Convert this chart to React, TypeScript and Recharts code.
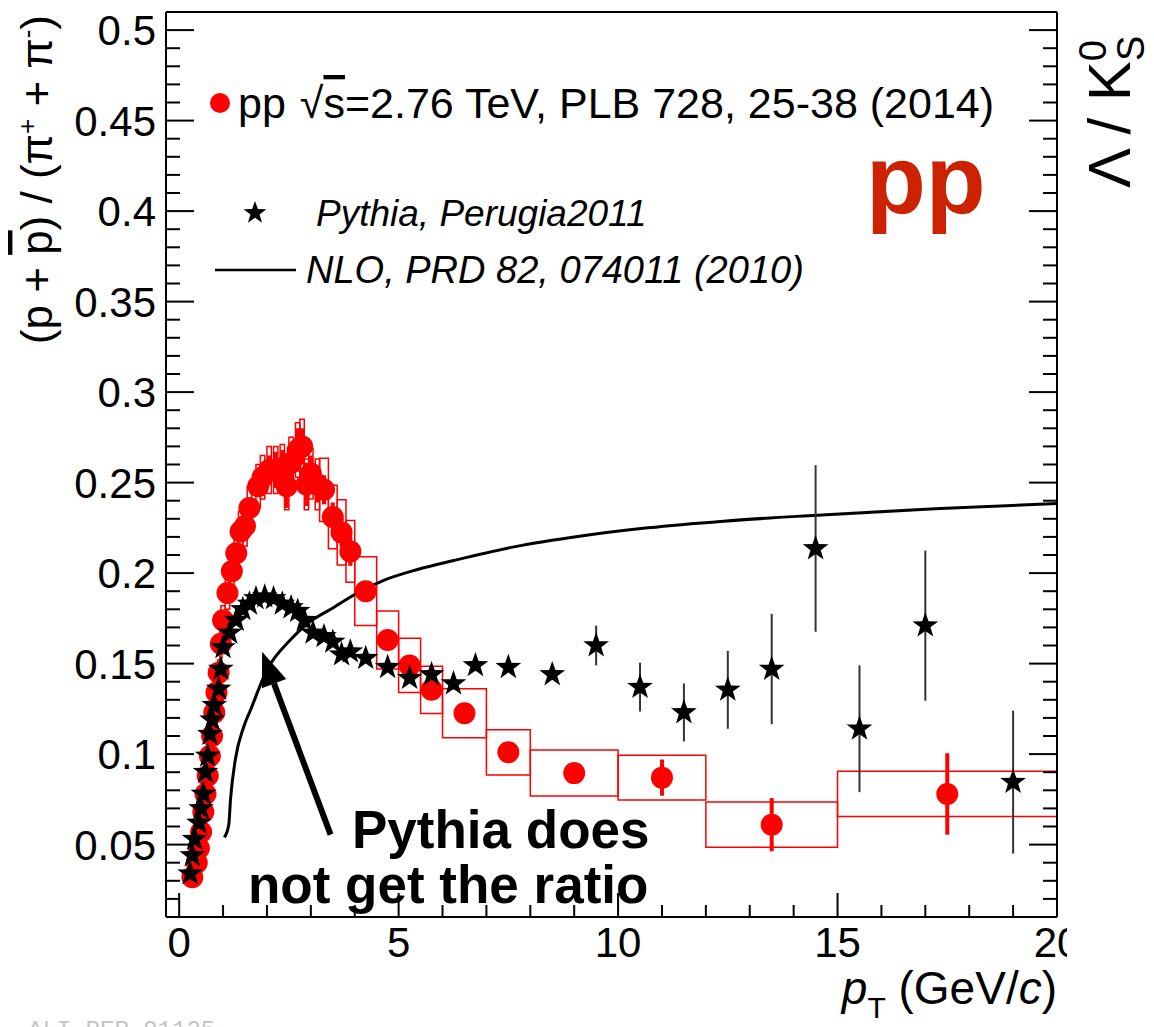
import React from 'react';
import { ComposedChart, Scatter, Line, XAxis, YAxis, ErrorBar, ReferenceArea, ReferenceLine } from 'recharts';

const FONT = '"Liberation Sans", Arial, Helvetica, sans-serif';

// ALICE pp 2.76 TeV, (p+pbar)/(pi+ + pi-)
const dataPt = [0.3, 0.4, 0.45, 0.5, 0.55, 0.6, 0.65, 0.7, 0.75, 0.8, 0.85, 0.9, 0.95, 1.0, 1.1, 1.2, 1.3, 1.4, 1.5, 1.6, 1.8, 1.9, 2.05, 2.2, 2.35, 2.45, 2.55, 2.7, 2.8, 2.9, 3.0, 3.15, 3.3, 3.5, 3.7, 3.9, 4.25, 4.75, 5.25, 5.75, 6.5, 7.5, 9.0, 11.0, 13.5, 17.5];
const dataRatio = [0.032, 0.04, 0.048, 0.057, 0.068, 0.078, 0.088, 0.099, 0.11, 0.123, 0.134, 0.145, 0.161, 0.174, 0.189, 0.201, 0.211, 0.223, 0.226, 0.236, 0.248, 0.253, 0.257, 0.257, 0.258, 0.248, 0.261, 0.268, 0.27, 0.249, 0.255, 0.249, 0.246, 0.231, 0.2225, 0.212, 0.19, 0.163, 0.149, 0.1355, 0.1226, 0.101, 0.0895, 0.087, 0.061, 0.078];
const dataStat = [0, 0, 0, 0, 0, 0, 0, 0, 0, 0, 0, 0, 0, 0, 0, 0, 0, 0, 0, 0, 0.004, 0.005, 0.008, 0.01, 0.01, 0.012, 0.01, 0.012, 0.01, 0.012, 0.01, 0.01, 0.008, 0.008, 0.008, 0.008, 0.004, 0.003, 0.003, 0.003, 0.003, 0.003, 0.004, 0.01, 0.0147, 0.0225];
const dataSys = [0.002, 0.002, 0.003, 0.003, 0.004, 0.004, 0.005, 0.005, 0.006, 0.006, 0.007, 0.007, 0.008, 0.008, 0.009, 0.01, 0.01, 0.011, 0.011, 0.012, 0.012, 0.012, 0.013, 0.013, 0.013, 0.013, 0.014, 0.015, 0.015, 0.014, 0.014, 0.014, 0.0175, 0.0175, 0.018, 0.017, 0.019, 0.016, 0.015, 0.013, 0.0135, 0.0125, 0.0127, 0.0123, 0.0125, 0.0125];
const dataBinW = [0.05, 0.05, 0.05, 0.05, 0.05, 0.05, 0.05, 0.05, 0.05, 0.05, 0.05, 0.05, 0.05, 0.1, 0.1, 0.1, 0.1, 0.1, 0.1, 0.1, 0.1, 0.1, 0.1, 0.1, 0.1, 0.1, 0.1, 0.1, 0.1, 0.1, 0.1, 0.1, 0.2, 0.2, 0.2, 0.2, 0.5, 0.5, 0.5, 0.5, 1, 1, 2, 2, 3, 5];

// Pythia Perugia2011
const pythiaPt = [0.25, 0.3, 0.35, 0.45, 0.5, 0.55, 0.6, 0.65, 0.7, 0.75, 0.8, 0.9, 0.95, 1.0, 1.15, 1.3, 1.45, 1.6, 1.75, 1.95, 2.15, 2.35, 2.55, 2.7, 2.85, 3.05, 3.3, 3.5, 3.7, 3.9, 4.25, 4.75, 5.25, 5.75, 6.25, 6.75, 7.5, 8.5, 9.5, 10.5, 11.5, 12.5, 13.5, 14.5, 15.5, 17.0, 19.0];
const pythiaRatio = [0.034, 0.044, 0.053, 0.062, 0.07, 0.078, 0.09, 0.099, 0.111, 0.119, 0.127, 0.136, 0.147, 0.159, 0.167, 0.174, 0.18, 0.183, 0.186, 0.187, 0.186, 0.183, 0.181, 0.179, 0.174, 0.167, 0.165, 0.162, 0.155, 0.1566, 0.153, 0.148, 0.142, 0.144, 0.139, 0.149, 0.148, 0.144, 0.16, 0.137, 0.123, 0.1355, 0.147, 0.2136, 0.114, 0.171, 0.0845];
const pythiaErr = [0, 0, 0, 0, 0, 0, 0, 0, 0, 0, 0, 0, 0, 0, 0, 0, 0, 0, 0, 0, 0, 0, 0, 0, 0, 0, 0, 0, 0, 0, 0, 0, 0, 0, 0, 0.002, 0.002, 0.003, 0.011, 0.0135, 0.016, 0.0215, 0.0305, 0.046, 0.035, 0.0415, 0.0395];

// NLO, PRD 82, 074011 (2010) - Lambda/K0s
const nloPt = [1.03, 1.13, 1.17, 1.28, 1.47, 1.62, 2.0, 2.53, 2.92, 3.52, 4.06, 4.66, 5.43, 6.26, 7.63, 9.16, 10.68, 12.4, 14.54, 17.22, 20.0];
const nloRatio = [0.054, 0.061, 0.075, 0.097, 0.115, 0.124, 0.1465, 0.163, 0.172, 0.181, 0.189, 0.196, 0.202, 0.207, 0.2145, 0.2205, 0.225, 0.2287, 0.232, 0.2356, 0.2384];

const xTicks = Array.from({ length: 21 }, (_, i) => i);
const yTicks = Array.from({ length: 49 }, (_, i) => (i + 2) / 100);

const dataPoints = dataPt.map((x, i) => ({ x, y: dataRatio[i], err: dataStat[i] }));
const pythiaPoints = pythiaPt.map((x, i) => ({ x, y: pythiaRatio[i], err: pythiaErr[i] }));
const nloPoints = nloPt.map((x, i) => ({ x, y: nloRatio[i] }));

const starPoints = (cx: number, cy: number, R: number) => {
  const pts: string[] = [];
  for (let i = 0; i < 10; i++) {
    const a = -Math.PI / 2 + (i * Math.PI) / 5;
    const rad = i % 2 === 0 ? R : R * 0.4;
    pts.push(`${cx + rad * Math.cos(a)},${cy + rad * Math.sin(a)}`);
  }
  return pts.join(' ');
};

const RedDot = (p: any) => <circle cx={p.cx} cy={p.cy} r={11} fill="#ff0000" />;
const Star = (p: any) => <polygon points={starPoints(p.cx, p.cy, 13.5)} fill="#000" />;

const isMajorX = (v: number) => v % 5 === 0;
const isMajorY = (v: number) => Math.round(v * 100) % 5 === 0;

const BottomTick = (props: any) => {
  const { x, y, payload } = props;
  const v = payload.value;
  const major = isMajorX(v);
  return (
    <g>
      <line x1={x} x2={x} y1={y} y2={y - (major ? 24 : 12)} stroke="#000" strokeWidth={2} />
      {major && (
        <text x={x} y={y + 40} textAnchor="middle" fontSize={42} fill="#000" clipPath={v === 20 ? 'url(#clip20)' : undefined}>
          {v}
        </text>
      )}
    </g>
  );
};

const TopTick = (props: any) => {
  const { x, y, payload } = props;
  const major = isMajorX(payload.value);
  return <line x1={x} x2={x} y1={y} y2={y + (major ? 24 : 12)} stroke="#000" strokeWidth={2} />;
};

const LeftTick = (props: any) => {
  const { x, y, payload } = props;
  const v = payload.value;
  const major = isMajorY(v);
  return (
    <g>
      <line x1={x} x2={x + (major ? 28 : 14)} y1={y} y2={y} stroke="#000" strokeWidth={2} />
      {major && (
        <text x={x - 10} y={y} dy="0.36em" textAnchor="end" fontSize={42} fill="#000">
          {String(Math.round(v * 100) / 100)}
        </text>
      )}
    </g>
  );
};

const RightTick = (props: any) => {
  const { x, y, payload } = props;
  const major = isMajorY(payload.value);
  return <line x1={x} x2={x - (major ? 28 : 14)} y1={y} y2={y} stroke="#000" strokeWidth={2} />;
};

const Arrow = (p: any) => {
  const { x1, y1, x2, y2 } = p;
  const dx = x2 - x1;
  const dy = y2 - y1;
  const len = Math.sqrt(dx * dx + dy * dy);
  const ux = dx / len;
  const uy = dy / len;
  const head = 34;
  const half = 13;
  const bx = x2 - ux * head;
  const by = y2 - uy * head;
  return (
    <g>
      <line x1={x1} y1={y1} x2={bx} y2={by} stroke="#000" strokeWidth={6} />
      <polygon
        points={`${x2},${y2} ${bx - uy * half},${by + ux * half} ${bx + uy * half},${by - ux * half}`}
        fill="#000"
      />
    </g>
  );
};

const axisLine = { stroke: '#000', strokeWidth: 2 };

export default function App() {
  return (
    <div style={{ position: 'absolute', left: 0, top: 0, width: 1154, height: 1027, background: '#fff', fontFamily: FONT }}>
      <ComposedChart width={1154} height={1027} margin={{ top: 11, right: 96, bottom: 109, left: 165 }}>
        <XAxis
          dataKey="x"
          type="number"
          domain={[-0.3, 20]}
          ticks={xTicks}
          interval={0}
          allowDataOverflow
          height={1}
          tickSize={0}
          tickMargin={0}
          tickLine={false}
          axisLine={axisLine}
          tick={<BottomTick />}
        />
        <XAxis
          xAxisId="top"
          orientation="top"
          type="number"
          domain={[-0.3, 20]}
          ticks={xTicks}
          interval={0}
          allowDataOverflow
          height={1}
          tickSize={0}
          tickMargin={0}
          tickLine={false}
          axisLine={axisLine}
          tick={<TopTick />}
        />
        <YAxis
          dataKey="y"
          type="number"
          domain={[0.01, 0.51]}
          ticks={yTicks}
          interval={0}
          allowDataOverflow
          width={1}
          tickSize={0}
          tickMargin={0}
          tickLine={false}
          axisLine={axisLine}
          tick={<LeftTick />}
        />
        <YAxis
          yAxisId="right"
          orientation="right"
          type="number"
          domain={[0.01, 0.51]}
          ticks={yTicks}
          interval={0}
          allowDataOverflow
          width={1}
          tickSize={0}
          tickMargin={0}
          tickLine={false}
          axisLine={axisLine}
          tick={<RightTick />}
        />
        {dataPt.map((x, i) => (
          <ReferenceArea
            key={`sys${i}`}
            x1={x - dataBinW[i] / 2}
            x2={x + dataBinW[i] / 2}
            y1={dataRatio[i] - dataSys[i]}
            y2={dataRatio[i] + dataSys[i]}
            fill="none"
            fillOpacity={0}
            stroke="#ff0000"
            strokeWidth={1.5}
            ifOverflow="visible"
          />
        ))}
        <Scatter data={dataPoints} shape={RedDot} isAnimationActive={false}>
          <ErrorBar dataKey="err" direction="y" width={0} stroke="#ff0000" strokeWidth={4} />
        </Scatter>
        <Line data={nloPoints} dataKey="y" type="monotone" dot={false} stroke="#000" strokeWidth={3} isAnimationActive={false} />
        <Scatter data={pythiaPoints} shape={Star} isAnimationActive={false}>
          <ErrorBar dataKey="err" direction="y" width={0} stroke="#333" strokeWidth={2} />
        </Scatter>
        <ReferenceLine
          segment={[
            { x: 3.45, y: 0.0555 },
            { x: 1.89, y: 0.1565 },
          ]}
          shape={Arrow}
        />
      </ComposedChart>

      <svg width={1154} height={1027} style={{ position: 'absolute', left: 0, top: 0, pointerEvents: 'none' }}>
        <defs>
          <clipPath id="clip20">
            <rect x={0} y={0} width={1067} height={1027} />
          </clipPath>
        </defs>

        {/* y-axis title */}
        <text transform="translate(52,15) rotate(-90)" textAnchor="end" fontSize={44} fill="#000">
          (p + <tspan style={{ textDecoration: 'overline' }}>p</tspan>) / (π
          <tspan dy={-16} fontSize={26}>+</tspan>
          <tspan dy={16}> + π</tspan>
          <tspan dy={-16} fontSize={26}>-</tspan>
          <tspan dy={16}>)</tspan>
        </text>

        {/* right title */}
        <text transform="translate(1130,188) rotate(-90)" fontSize={60} fill="#000">
          Λ / K
          <tspan dy={-24} fontSize={38}>0</tspan>
          <tspan dx={-21} dy={38} fontSize={38}>S</tspan>
        </text>

        {/* x-axis title */}
        <text x={1057} y={1004} textAnchor="end" fontSize={46} fill="#000">
          <tspan fontStyle="italic">p</tspan>
          <tspan dy={14} fontSize={30}>T</tspan>
          <tspan dy={-14}> (GeV/</tspan>
          <tspan fontStyle="italic">c</tspan>)
        </text>

        {/* legend */}
        <circle cx={220} cy={103} r={10} fill="#ff0000" />
        <text x={238} y={118} fontSize={43} fill="#000">
          pp<tspan dx={14}>√</tspan>
          <tspan style={{ textDecoration: 'overline' }}>s</tspan>=2.76 TeV, PLB 728, 25-38 (2014)
        </text>
        <polygon points={starPoints(255, 213, 12)} fill="#000" />
        <text x={316} y={226} fontSize={37} fontStyle="italic" fill="#000">
          Pythia, Perugia2011
        </text>
        <line x1={215} x2={296} y1={270} y2={270} stroke="#000" strokeWidth={2.5} />
        <text x={306} y={283} fontSize={38} fontStyle="italic" fill="#000">
          NLO, PRD 82, 074011 (2010)
        </text>

        <text x={866} y={214} fontSize={98} fontWeight="bold" fill="#cc2200">
          pp
        </text>

        <text x={352} y={848} fontSize={53} fontWeight="bold" fill="#000">
          Pythia does
        </text>
        <text x={248} y={903} fontSize={53} fontWeight="bold" fill="#000">
          not get the ratio
        </text>

        <text x={28} y={1037} fontSize={24} fontFamily='"Liberation Mono", "DejaVu Sans Mono", monospace' fill="#c4c4c4">
          ALI-PER-91125
        </text>
      </svg>
    </div>
  );
}
